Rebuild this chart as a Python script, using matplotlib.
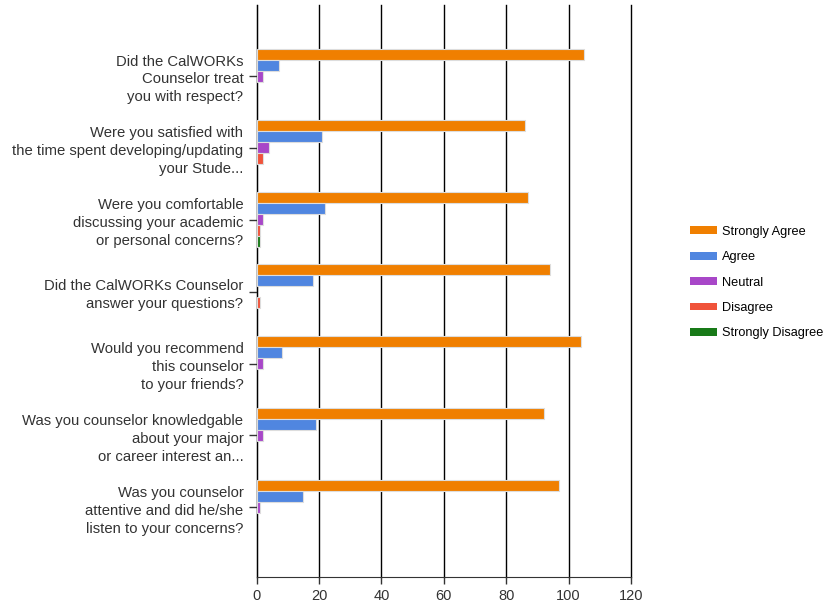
import numpy as np
import matplotlib
matplotlib.use("Agg")
import matplotlib.pyplot as plt

questions = [
    "Did the CalWORKs\nCounselor treat\nyou with respect?",
    "Were you satisfied with\nthe time spent developing/updating\nyour Stude...",
    "Were you comfortable\ndiscussing your academic\nor personal concerns?",
    "Did the CalWORKs Counselor\nanswer your questions?",
    "Would you recommend\nthis counselor\nto your friends?",
    "Was you counselor knowledgable\nabout your major\nor career interest an...",
    "Was you counselor\nattentive and did he/she\nlisten to your concerns?",
]
series = ["Strongly Agree", "Agree", "Neutral", "Disagree", "Strongly Disagree"]
strongly_agree = [105, 86, 87, 94, 104, 92, 97]
agree = [7, 21, 22, 18, 8, 19, 15]
neutral = [2, 4, 2, 0, 2, 2, 1]
disagree = [0, 2, 1, 1, 0, 0, 0]
strongly_disagree = [0, 0, 1, 0, 0, 0, 0]
colors = ["#f07f00", "#5086e0", "#a847c8", "#f0533a", "#187a18"]

plt.rcParams['font.family'] = ['Liberation Sans', 'DejaVu Sans']

fig = plt.figure(figsize=(8.28, 6.08), dpi=100)
ax = fig.add_axes([0.310, 0.051, 0.452, 0.941])

y = np.arange(len(questions))
h = 0.153
data = [strongly_agree, agree, neutral, disagree, strongly_disagree]
for i, vals in enumerate(data):
    vals = np.array(vals)
    edge = ["#dddddd" if v > 0 else "none" for v in vals]
    ax.barh(y - 2 * h + i * h, vals, height=h, color=colors[i],
            edgecolor=edge, linewidth=0.8, label=series[i], zorder=3)

ax.set_xlim(0, 120)
ax.set_ylim(6.97, -0.99)
ax.set_xticks(range(0, 121, 20))
ax.set_yticks(y)
ax.set_yticklabels(questions, fontsize=10.7, color="#222222", linespacing=1.35)
ax.tick_params(axis='x', labelsize=10.5, colors="#333333", length=5, width=1)
ax.tick_params(axis='y', length=6, width=1, colors="#333333")
ax.xaxis.grid(True, color="black", linewidth=1, zorder=0)
for line in ax.get_xgridlines():
    line.set_clip_on(False)
for s in ["top", "right"]:
    ax.spines[s].set_visible(False)
ax.spines["left"].set_color("black")
ax.spines["bottom"].set_color("#333333")

leg = fig.legend(loc="upper left", bbox_to_anchor=(0.827, 0.637), frameon=False,
                 fontsize=9.2, handlelength=2.1, handleheight=0.55,
                 labelspacing=1.05, handletextpad=0.45, borderaxespad=0)
for p in leg.get_patches():
    p.set_edgecolor("none")

fig.savefig("out.png", dpi=100)
